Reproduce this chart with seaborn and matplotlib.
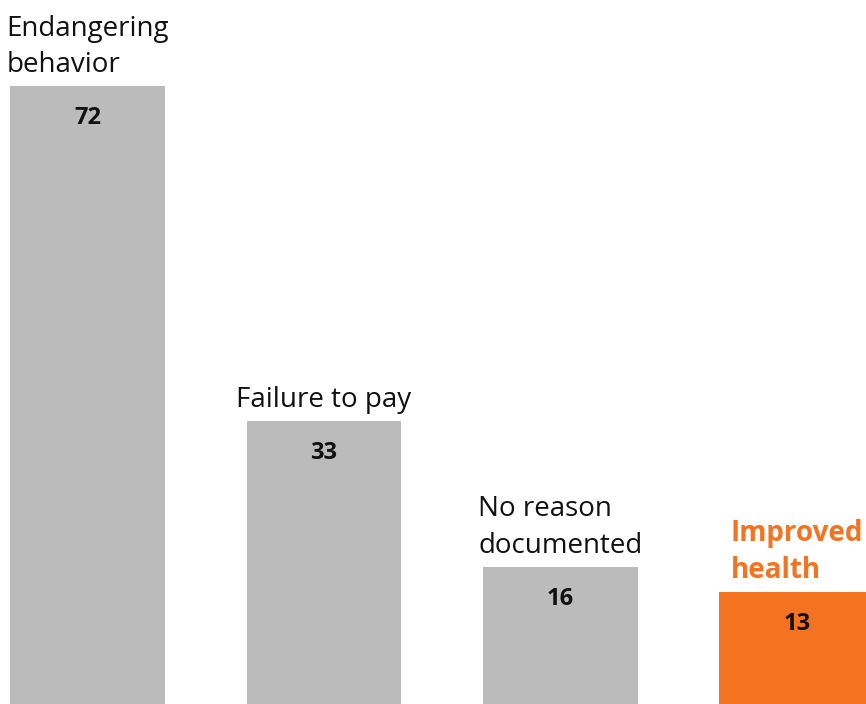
import matplotlib
matplotlib.use("Agg")
import matplotlib.pyplot as plt
import seaborn as sns

# Chart data
categories = ["Endangering\nbehavior", "Failure to pay", "No reason\ndocumented", "Improved\nhealth"]
values = [72, 33, 16, 13]
bar_colors = ["#BBBBBB", "#BBBBBB", "#BBBBBB", "#F37321"]
label_colors = ["#111111", "#111111", "#111111", "#F37321"]
label_weights = ["normal", "normal", "normal", "bold"]

sns.set_style("white")
plt.rcParams["font.family"] = ["Open Sans", "DejaVu Sans"]

fig = plt.figure(figsize=(8.66, 7.04), dpi=100)
ax = fig.add_axes([0, 0, 1, 1])

sns.barplot(x=categories, y=values, hue=categories, palette=bar_colors,
            legend=False, width=0.655, saturation=1, linewidth=0, ax=ax)

ax.set_xlim(-0.37, 3.292)
ax.set_ylim(0, 82)
ax.axis("off")

# category labels above bars, value labels inside
for i, (cat, val) in enumerate(zip(categories, values)):
    ax.annotate(cat, xy=(i, val), xytext=(0, 5), textcoords="offset points",
                ha="center", va="bottom", multialignment="left",
                fontsize=20, color=label_colors[i], fontweight=label_weights[i],
                linespacing=1.4)
    ax.annotate(str(val), xy=(i, val), xytext=(0, -23), textcoords="offset points",
                ha="center", va="center", fontsize=17, fontweight="bold",
                color="#111111")

fig.savefig("out.png", dpi=100)
